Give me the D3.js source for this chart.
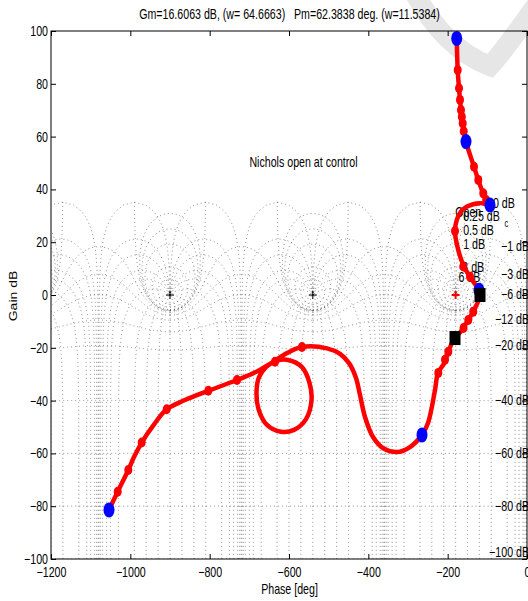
<!DOCTYPE html>
<html><head><meta charset="utf-8">
<script src="https://cdn.jsdelivr.net/npm/d3@7"></script>
<style>
body{margin:0;background:#fff}
text{font-family:"Liberation Sans",Arial,Helvetica,sans-serif;fill:#000;white-space:pre}
</style>
</head><body>
<svg id="chart" width="528" height="601"></svg>
<script>
// ---------------- data ----------------
const phaseTicks = [-1200,-1000,-800,-600,-400,-200,0];
const gainTicks  = [-100,-80,-60,-40,-20,0,20,40,60,80,100];

// open-loop frequency response (phase deg, gain dB)
const curvePhase = [-177.2,-174.7,-171.4,-168.9,-166.4,-162.1,-153.8,-133.6,-122.8,-110.2,-93.3,
  -118.5,-151.3,-168.9,-181.5,-173.2,-160.6,-143.7,-126.1,-118.5,-136.1,-148.7,-163.9,-181.5,
  -199.2,-206.7,-224.4,-231.9,-249.6,-264.7,-295,-327.7,-363,-388.2,-408.4,-421,-431.1,-448.7,
  -471.4,-504.2,-567.2,-605,-640.3,-658,-675.6,-681.9,-676.9,-655.5,-620.2,-587.4,-557.1,-543.3,
  -548.3,-567.2,-602.5,-632.8,-678.2,-731.1,-803.4,-862.2,-908.3,-942.9,-971.3,-990.8,-1005.1,
  -1031.8,-1053.8];
const curveGain = [97.2,85.2,78.3,73.9,70.1,65.0,58.1,48.6,43.6,38.5,34.1,
  34.8,33.5,31.1,24.6,17.0,11.4,6.8,3.0,0,-6.4,-9.5,-13.3,-16.3,
  -21.6,-25.4,-29.5,-36.0,-48.5,-53.0,-57.6,-59.5,-58.0,-53.8,-46.2,-37.9,-31.4,-25.8,
  -22.3,-20.2,-19.7,-22.0,-25.4,-27.3,-31.1,-36.7,-43.2,-49.2,-51.8,-51.1,-47.0,-39.8,
  -33.3,-27.3,-24.6,-25.0,-28.8,-32.2,-36.3,-39.8,-43.3,-49.6,-55.9,-61.4,-66.3,
  -74.5,-81.4];

// red frequency markers
const markPhase = [-174.7,-171.4,-168.9,-166.4,-164.3,-162.1,-159.5,-133.6,-122.8,-110.2,-103,
  -181.5,-160.6,-143.7,-135.4,-148,-160,-198.4,-206.7,-223.6,
  -567.2,-635.3,-731.1,-803.4,-908.3,-971.3,-1005.1,-1031.8];
const markGain = [85.2,78.3,73.9,70.1,67.5,65.0,62.0,48.6,43.6,38.5,36.0,
  24.2,10.8,6.9,-6.3,-9.5,-12.5,-21.5,-24.5,-29.5,
  -19.7,-25.3,-32.2,-36.3,-43.3,-55.9,-66.3,-74.5];

// blue points
const bluePhase = [-177.2,-153.8,-93.3,-121,-264.7,-1053.8];
const blueGain  = [97.2,58.1,34.1,1.8,-53.0,-81.4];

// black squares
const sqPhase = [-118.5,-181.5];
const sqGain  = [0,-16.3];

// Nichols grid definition
const gridGains  = [6,3,1,0.5,0.25,0,-1,-3,-6,-12,-20,-40,-60,-80,-100];
const gridPhases = [-1,-5,-10,-20,-30,-50,-90,-120,-150,-180,-210,-240,-270,-310,-330,-340,-350,-355,-359];
const critPhases = [-900,-540];

// grid labels
const posLabels  = ["0 dB","0.25 dB","0.5 dB","1 dB","3 dB","6 dB"];
const posLabPh   = [-85.7,-161,-161,-161,-163,-173];
const posLabGain = [34.8,29.6,24.3,19.3,10.6,6.6];
const negLabels  = ["\u22121 dB","\u22123 dB","\u22126 dB","\u221212 dB","\u221220 dB","\u221240 dB","\u221260 dB","\u221280 dB","\u2212100 dB"];
const negLabGain = [18.4,7.9,0.1,-9.4,-19.0,-40.0,-60.0,-80.1,-97.6];

const titleText = "Gm=16.6063 dB, (w= 64.6663)   Pm=62.3838 deg. (w=11.5384)";
const noteText  = "Nichols open at control";

// ---------------- drawing ----------------
const K = 0.76;       // horizontal squeeze of text
const FS = 14;
const svg = d3.select("#chart");
const L=51,R=527,T=31,B=559;
const x = d3.scaleLinear().domain([-1200,0]).range([L,R]);
const y = d3.scaleLinear().domain([-100,100]).range([B,T]);

svg.append("defs").append("clipPath").attr("id","pc")
  .append("rect").attr("x",L).attr("y",T).attr("width",R-L).attr("height",B-T);

function txt(g,str,px,py,anchor,size){
  return g.append("text").attr("transform",`translate(${px},${py}) scale(${K},1)`)
    .attr("text-anchor",anchor).attr("font-size",size||FS).text(str);
}

// watermark
svg.append("path")
  .attr("d","M412,-12 C432,28 460,55 490,66 C505,50 518,30 540,0")
  .attr("fill","none").attr("stroke","#e6e6e6").attr("stroke-width",20).attr("stroke-linecap","round");

// ---- grid (closed-loop contours) ----
const gGrid = svg.append("g").attr("clip-path","url(#pc)");
const line = d3.line().x(d=>x(d[0])).y(d=>y(d[1]));
function ol(a,b){ // G = T/(1-T)
  const den=(1-a)*(1-a)+b*b;
  return [(a-a*a-b*b)/den, b/den];
}
function toNic(g){
  return [Math.atan2(g[1],g[0])*180/Math.PI, 10*Math.log10(g[0]*g[0]+g[1]*g[1])];
}
const curves=[];
gridGains.forEach(M=>{
  const m=Math.pow(10,M/20);
  let pts=[];
  if(M===0){
    const gmax=Math.pow(10,35.2/20), ymax=Math.sqrt(gmax*gmax-0.25);
    for(let i=0;i<=600;i++){
      const yy=ymax-2*ymax*i/600;
      let [p,gdb]=toNic([-0.5,yy]); if(p>0)p-=360; pts.push([p,gdb]);
    }
  } else {
    for(let i=0;i<=720;i++){
      const th=(-180+0.05+ (359.9*i/720))*Math.PI/180;
      let [p,gdb]=toNic(ol(m*Math.cos(th),m*Math.sin(th)));
      if(M>0 && p>0) p-=360;
      pts.push([p,gdb]);
    }
  }
  curves.push(pts);
});
gridPhases.forEach(ph=>{
  const pr=ph*Math.PI/180; let prev=ph; const pts=[];
  for(let t=-5.3;t<=4;t+=0.004){
    const r=Math.pow(10,t);
    let [p,gdb]=toNic(ol(r*Math.cos(pr),r*Math.sin(pr)));
    while(p-prev>180)p-=360; while(prev-p>180)p+=360;
    prev=p; pts.push([p,gdb]);
  }
  curves.push(pts);
});
curves.forEach(pts=>{
  for(let k=-4;k<=1;k++){
    gGrid.append("path").attr("d",line(pts.map(d=>[d[0]+360*k,d[1]])))
      .attr("fill","none").attr("stroke","#333").attr("stroke-width",0.9)
      .attr("stroke-dasharray","1 3").attr("stroke-opacity",0.62);
  }
});
// critical point crosses
critPhases.forEach(p=>{
  const cx=x(p),cy=y(0);
  svg.append("path").attr("d",`M${cx-4},${cy}H${cx+4}M${cx},${cy-4}V${cy+4}`)
    .attr("stroke","#000").attr("stroke-width",1);
});

// grid labels
const gLab=svg.append("g");
posLabels.forEach((s,i)=>txt(gLab,s,x(posLabPh[i]),y(posLabGain[i])+4.5,"start"));
negLabels.forEach((s,i)=>txt(gLab,s,529,y(negLabGain[i])+4.5,"end"));
txt(gLab,"Open",x(-181),y(31.2)+4.5,"start");
txt(gLab,"c",x(-57),y(27.4)+4,"start",10);

// ---- open loop curve ----
const pts = curvePhase.map((p,i)=>[p,curveGain[i]]);
svg.append("path").attr("d",d3.line().x(d=>x(d[0])).y(d=>y(d[1])).curve(d3.curveCatmullRom.alpha(0.5))(pts))
  .attr("fill","none").attr("stroke","#ff0000").attr("stroke-width",4.5)
  .attr("stroke-linejoin","round").attr("stroke-linecap","round");
markPhase.forEach((p,i)=>svg.append("ellipse").attr("cx",x(p)).attr("cy",y(markGain[i]))
  .attr("rx",4).attr("ry",5).attr("fill","#ff0000"));
// red cross at -180
{ const cx=x(-180),cy=y(0);
  svg.append("path").attr("d",`M${cx-4},${cy}H${cx+4}M${cx},${cy-4}V${cy+4}`)
    .attr("stroke","#ff0000").attr("stroke-width",2); }
bluePhase.forEach((p,i)=>svg.append("ellipse").attr("cx",x(p)).attr("cy",y(blueGain[i]))
  .attr("rx",5.5).attr("ry",7.5).attr("fill","#0000ff"));
sqPhase.forEach((p,i)=>svg.append("rect").attr("x",x(p)-5.5).attr("y",y(sqGain[i])-7)
  .attr("width",11).attr("height",14).attr("fill","#000"));

// ---- axes ----
const fmt = d3.format("d");
const xb=svg.append("g").attr("transform",`translate(0,${B})`)
  .call(d3.axisBottom(x).tickValues(phaseTicks).tickFormat(fmt).tickSizeInner(-5).tickSizeOuter(0).tickPadding(8));
const xt=svg.append("g").attr("transform",`translate(0,${T})`)
  .call(d3.axisTop(x).tickValues(phaseTicks).tickSizeInner(-5).tickSizeOuter(0).tickFormat(""));
const yl=svg.append("g").attr("transform",`translate(${L},0)`)
  .call(d3.axisLeft(y).tickValues(gainTicks).tickFormat(fmt).tickSizeInner(-5).tickSizeOuter(0).tickPadding(3));
const yr=svg.append("g").attr("transform",`translate(${R},0)`)
  .call(d3.axisRight(y).tickValues(gainTicks).tickSizeInner(-5).tickSizeOuter(0).tickFormat(""));
[xb,xt,yl,yr].forEach(a=>{a.select(".domain").remove(); a.selectAll("line").attr("stroke","#000");
  a.selectAll("text").attr("font-size",FS).attr("font-family",null);});
xb.selectAll("text").attr("transform",`scale(${K},1)`);
yl.selectAll("text").attr("transform",`scale(${K},1)`).attr("x",-3/K);
svg.append("rect").attr("x",L).attr("y",T).attr("width",R-L).attr("height",B-T)
  .attr("fill","none").attr("stroke","#000").attr("stroke-width",1);

// ---- texts ----
txt(svg,titleText,289.5,19,"middle");
txt(svg,noteText,303.5,167,"middle");
txt(svg,"Phase [deg]",289.5,594,"middle");
svg.append("text").attr("transform",`translate(17,296) scale(${K},1) rotate(-90)`)
  .attr("text-anchor","middle").attr("font-size",FS).text("Gain dB");
</script>
</body></html>
